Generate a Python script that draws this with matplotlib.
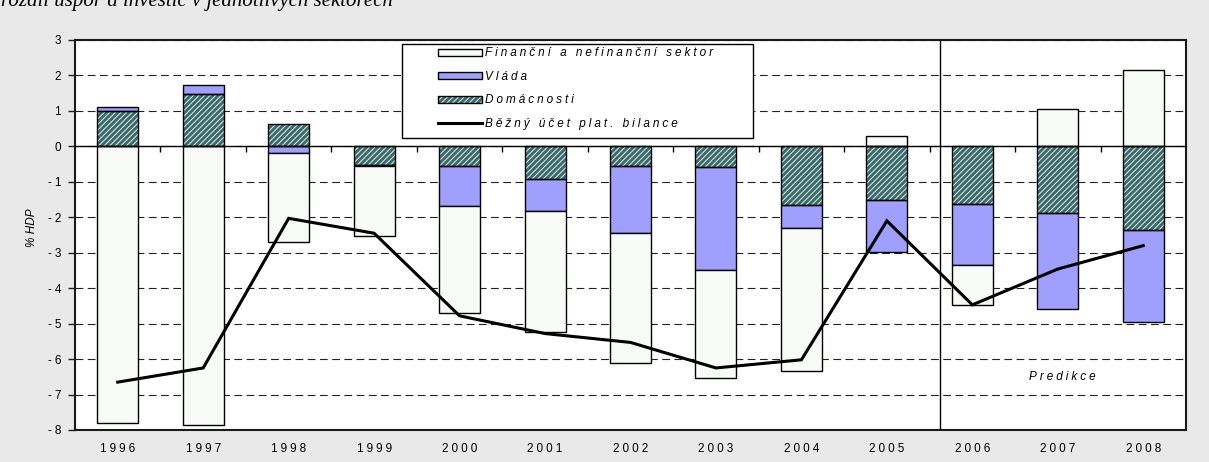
import numpy as np
import matplotlib
matplotlib.use('Agg')
import matplotlib.pyplot as plt
from matplotlib.patches import Rectangle
from matplotlib.legend_handler import HandlerTuple

# ---------------- data ----------------
years = ['1996', '1997', '1998', '1999', '2000', '2001', '2002',
         '2003', '2004', '2005', '2006', '2007', '2008']
financni = [-7.80, -7.85, -2.51, -1.97, -3.01, -3.42, -3.67,
            -3.04, -4.02, 0.28, -1.11, 1.06, 2.16]
vlada = [0.10, 0.25, -0.20, -0.03, -1.14, -0.88, -1.90,
         -2.91, -0.66, -1.47, -1.74, -2.72, -2.59]
domacnosti = [1.00, 1.47, 0.62, -0.52, -0.55, -0.93, -0.55,
              -0.59, -1.65, -1.51, -1.62, -1.87, -2.36]
bezny_ucet = [-6.65, -6.25, -2.03, -2.45, -4.78, -5.28, -5.53,
              -6.25, -6.02, -2.10, -4.47, -3.46, -2.80]
y_ticks = list(range(-8, 4))

title_text = 'rozdíl úspor a investic v jednotlivých sektorech'
legend_labels = ['Finanční a nefinanční sektor', 'Vláda', 'Domácnosti',
                 'Běžný účet plat. bilance']
ylabel_text = '% HDP'
note_text = 'Predikce'

# ---------------- style ----------------
FONT = ['Liberation Sans', 'DejaVu Sans']
plt.rcParams['font.family'] = FONT
plt.rcParams['hatch.linewidth'] = 0.7
FS = 8.5


def spaced(s):
    return '\u2005'.join(s)


W, H = 1209, 462
fig = plt.figure(figsize=(W / 100, H / 100), dpi=100, facecolor='#e9e9e9')
ax = fig.add_axes([75 / W, (H - 430) / H, 1111 / W, 390 / H])
ax.set_facecolor('white')

x = np.arange(len(years))
bw = 0.48
pos_base = np.zeros(len(years))
neg_base = np.zeros(len(years))


def bottoms(vals):
    v = np.asarray(vals, dtype=float)
    b = np.where(v >= 0, pos_base, neg_base)
    return v, b


def update(v):
    global pos_base, neg_base
    pos_base = pos_base + np.where(v >= 0, v, 0)
    neg_base = neg_base + np.where(v < 0, v, 0)


# domácnosti (nearest zero)
v, b = bottoms(domacnosti)
dom_hatch = ax.bar(x, v, bw, bottom=b, facecolor='#3a6a6a', edgecolor='#e8f0f0',
                   hatch='//////', linewidth=0, zorder=2)
dom_edge = ax.bar(x, v, bw, bottom=b, facecolor='none', edgecolor='black',
                  linewidth=1.0, zorder=2.1)
update(v)

# vláda
v, b = bottoms(vlada)
vl_bars = ax.bar(x, v, bw, bottom=b, facecolor='#9f9ffd', edgecolor='black',
                 linewidth=1.0, zorder=2)
update(v)

# finanční a nefinanční sektor
v, b = bottoms(financni)
fin_bars = ax.bar(x, v, bw, bottom=b, facecolor='#f8faf8', edgecolor='black',
                  linewidth=1.0, zorder=2)
update(v)

line, = ax.plot(x, bezny_ucet, color='black', linewidth=2.2, zorder=4,
                solid_joinstyle='miter')

ax.set_xlim(-0.5, len(years) - 0.5)
ax.set_ylim(-8, 3)

# y axis
ax.set_yticks(y_ticks)
ax.set_yticklabels([spaced(str(t)) for t in y_ticks], fontsize=FS)
ax.tick_params(axis='y', direction='out', length=5, width=1, pad=5,
               color='#222222')
ax.yaxis.grid(True, linestyle=(0, (7, 4)), color='#222222', linewidth=0.8)
ax.set_axisbelow(True)

# x axis labels at bottom
ax.set_xticks(x)
ax.set_xticklabels([spaced(y) for y in years], fontsize=FS)
ax.tick_params(axis='x', length=0, pad=9.5)

for s in ax.spines.values():
    s.set_linewidth(1.5)
    s.set_color('#1a1a1a')

# zero axis with category-boundary ticks
sec = ax.secondary_xaxis(8 / 11)
sec.set_xticks(np.arange(0.5, len(years) - 1, 1))
sec.tick_params(direction='in', length=4, width=1, labeltop=False,
                labelbottom=False, color='black')
sec.spines['top'].set_linewidth(1.0)
sec.spines['top'].set_color('black')
sec.set_zorder(2.5)

# prediction separator
ax.axvline(9.62, color='black', linewidth=1.0, zorder=3)
ax.text(11.05, -6.5, spaced(note_text), fontsize=FS, style='italic',
        ha='center', va='center', zorder=5)

# y label
ax.set_ylabel(ylabel_text, fontsize=FS, style='italic')
ax.yaxis.set_label_coords(-0.0333, 0.52)

# legend
x0, x1 = (402 - 75) / 1111, (753 - 75) / 1111
y0, y1 = (430 - 138) / 390, (430 - 44) / 390
ax.add_patch(Rectangle((x0, y0), x1 - x0, y1 - y0, transform=ax.transAxes,
                       facecolor='white', edgecolor='black', linewidth=1.0,
                       zorder=5))
leg = ax.legend([fin_bars, vl_bars, (dom_hatch, dom_edge), line],
                [spaced(l) for l in legend_labels],
                handler_map={tuple: HandlerTuple(ndivide=1)},
                loc='center',
                bbox_to_anchor=((x0 + x1) / 2 - 0.002, (y0 + y1) / 2 + 0.006),
                frameon=False, prop={'size': FS, 'style': 'italic'},
                handlelength=3.7, handleheight=0.5, handletextpad=0.25,
                labelspacing=0.97)
leg.set_zorder(6)

# cut-off heading at top (as in the reference)
fig.text(0.001, 1 - 6 / H, title_text, family='Liberation Serif',
         style='italic', fontsize=15, va='baseline')

fig.savefig('out.png', dpi=100, facecolor=fig.get_facecolor())
